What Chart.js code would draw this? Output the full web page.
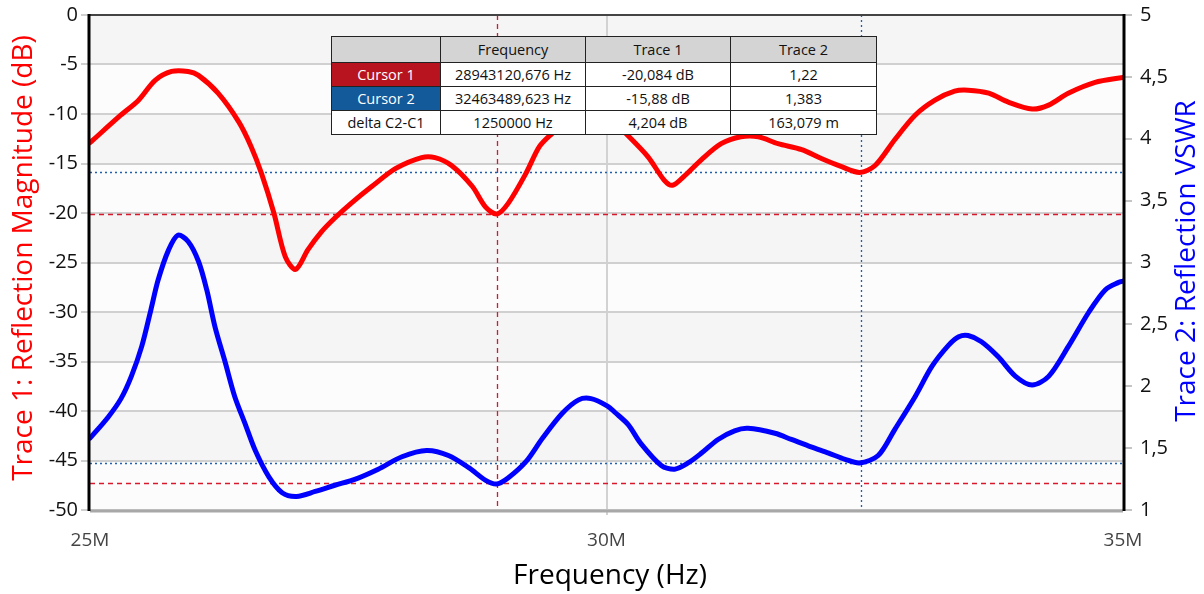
<!DOCTYPE html>
<html>
<head>
<meta charset="utf-8">
<script src="https://cdn.jsdelivr.net/npm/chart.js@4.4.1/dist/chart.umd.min.js"></script>
<style>
  body { margin: 0; background: #fff; }
  #wrap { position: relative; width: 1204px; height: 594px; }
  #cursors {
    position: absolute; left: 331px; top: 36px;
    border-collapse: collapse; table-layout: fixed;
    font-family: "Open Sans", sans-serif; font-size: 14.5px; color: #111;
    background: #fff;
  }
  #cursors td { border: 1px solid #222; text-align: center; padding: 0; height: 23px; white-space: nowrap; }
  #cursors tr.head td { background: #d4d4d4; height: 25px; }
  #cursors td.c1 { background: #b8141f; color: #fff; }
  #cursors td.c2 { background: #135a9b; color: #fff; }
</style>
</head>
<body>
<div id="wrap">
  <canvas id="lineChart" width="1204" height="594"></canvas>
  <table id="cursors">
    <colgroup><col style="width:109px"><col style="width:145px"><col style="width:145px"><col style="width:146px"></colgroup>
    <tr class="head"><td></td><td>Frequency</td><td>Trace 1</td><td>Trace 2</td></tr>
    <tr><td class="c1">Cursor 1</td><td>28943120,676 Hz</td><td>-20,084 dB</td><td>1,22</td></tr>
    <tr><td class="c2">Cursor 2</td><td>32463489,623 Hz</td><td>-15,88 dB</td><td>1,383</td></tr>
    <tr><td>delta C2-C1</td><td>1250000 Hz</td><td>4,204 dB</td><td>163,079 m</td></tr>
  </table>
</div>
<script>
// trace 1 : reflection magnitude (dB), fréquence en MHz
const freq1 = [25, 25.3, 25.47, 25.63, 25.79, 25.95, 26.05, 26.24, 26.44, 26.56, 26.66, 26.78, 26.89, 26.99,
    27.11, 27.24, 27.37, 27.53, 27.73, 27.96, 28.21, 28.34, 28.5, 28.7, 28.83, 28.94, 29.05, 29.22, 29.35,
    29.47, 29.65, 29.85, 30.05, 30.19, 30.4, 30.56, 30.64, 30.75, 30.92, 31.11, 31.3, 31.47, 31.66, 31.89,
    32.08, 32.27, 32.45, 32.6, 32.79, 32.99, 33.18, 33.37, 33.5, 33.7, 33.89, 34.12, 34.28, 34.47, 34.73, 35];
const trace1 = [-12.9, -10.1, -8.6, -6.6, -5.7, -5.7, -6.1, -7.9, -10.8, -13.3, -16.0, -20.0, -24.4, -25.7,
    -23.7, -21.9, -20.5, -19.0, -17.3, -15.5, -14.4, -14.4, -15.2, -17.3, -19.4, -20.1, -19.0, -16.0, -13.3,
    -12.0, -10.4, -9.8, -10.6, -12.0, -14.3, -16.7, -17.2, -16.3, -14.6, -13.0, -12.3, -12.3, -13.0, -13.6,
    -14.5, -15.3, -15.9, -15.2, -12.6, -10.1, -8.6, -7.7, -7.6, -7.9, -8.8, -9.5, -9.1, -7.9, -6.8, -6.3];

// trace 2 : reflection VSWR
const freq2 = [25, 25.175, 25.3, 25.4, 25.5, 25.59, 25.66, 25.76, 25.85, 25.95, 26.05, 26.13, 26.21, 26.31,
    26.4, 26.5, 26.6, 26.73, 26.86, 27.0, 27.18, 27.37, 27.57, 27.79, 28.02, 28.26, 28.47, 28.67, 28.83,
    28.94, 29.05, 29.22, 29.38, 29.57, 29.73, 29.85, 30.01, 30.08, 30.21, 30.33, 30.53, 30.66, 30.79, 30.92,
    31.08, 31.24, 31.37, 31.63, 31.79, 31.98, 32.15, 32.31, 32.45, 32.63, 32.79, 32.99, 33.15, 33.31, 33.41,
    33.5, 33.63, 33.79, 33.96, 34.12, 34.28, 34.47, 34.67, 34.83, 34.96, 35];
const trace2 = [1.58, 1.75, 1.9, 2.08, 2.32, 2.62, 2.86, 3.1, 3.22, 3.17, 3.01, 2.78, 2.48, 2.19,
    1.92, 1.7, 1.48, 1.27, 1.14, 1.11, 1.15, 1.2, 1.25, 1.33, 1.43, 1.48, 1.44, 1.34, 1.24,
    1.21, 1.26, 1.39, 1.58, 1.78, 1.89, 1.9, 1.84, 1.79, 1.69, 1.54, 1.36, 1.33, 1.38, 1.46,
    1.57, 1.64, 1.66, 1.62, 1.57, 1.51, 1.46, 1.41, 1.38, 1.44, 1.65, 1.92, 2.16, 2.33, 2.4,
    2.41, 2.36, 2.24, 2.08, 2.01, 2.08, 2.32, 2.6, 2.78, 2.84, 2.85];

// curseurs (valeurs du tableau)
const cursorFreq = [28.943120676, 32.463489623];
const cursorDb = [-20.084, -15.88];
const cursorVswr = [1.22, 1.383];
const cursorColors = ['rgb(215,25,45)', 'rgb(30,95,175)'];
const cursorDash = [[5, 4], [2, 3]];

const xTicks = [25, 30, 35];

const font = '"Open Sans", sans-serif';

function toPoints(xs, ys) {
    return xs.map((x, i) => ({ x: x, y: ys[i] }));
}

// fond en bandes + curseurs
const decor = {
    id: 'decor',
    beforeDraw(chart) {
        const { ctx, chartArea: a, scales } = chart;
        const y = scales.y;
        ctx.save();
        for (let v = 0; v > -50; v -= 5) {
            const top = y.getPixelForValue(v);
            const bot = y.getPixelForValue(v - 5);
            ctx.fillStyle = ((-v / 5) % 2 === 0) ? '#f5f5f5' : '#fcfcfc';
            ctx.fillRect(a.left, top, a.right - a.left, bot - top);
        }
        ctx.restore();
    },
    beforeDatasetsDraw(chart) {
        const { ctx, chartArea: a, scales } = chart;
        ctx.save();
        ctx.lineWidth = 1.3;
        cursorFreq.forEach((f, i) => {
            ctx.strokeStyle = cursorColors[i];
            ctx.setLineDash(cursorDash[i]);
            const px = Math.round(scales.x.getPixelForValue(f)) + 0.5;
            const py1 = Math.round(scales.y.getPixelForValue(cursorDb[i])) + 0.5;
            const py2 = Math.round(scales.y2.getPixelForValue(cursorVswr[i])) + 0.5;
            ctx.beginPath();
            ctx.moveTo(px, a.top); ctx.lineTo(px, a.bottom);
            ctx.moveTo(a.left, py1); ctx.lineTo(a.right, py1);
            ctx.moveTo(a.left, py2); ctx.lineTo(a.right, py2);
            ctx.stroke();
        });
        ctx.restore();
    },
    afterDraw(chart) {
        const { ctx, chartArea: a } = chart;
        ctx.save();
        // cadre
        ctx.lineWidth = 2;
        ctx.strokeStyle = '#444';
        ctx.beginPath(); ctx.moveTo(a.left, a.top); ctx.lineTo(a.right, a.top); ctx.stroke();
        ctx.lineWidth = 3;
        ctx.strokeStyle = '#a8a8a8';
        ctx.beginPath(); ctx.moveTo(a.left, a.bottom + 1); ctx.lineTo(a.right, a.bottom + 1); ctx.stroke();
        ctx.strokeStyle = '#000';
        ctx.beginPath(); ctx.moveTo(a.left - 1, a.top - 1); ctx.lineTo(a.left - 1, a.bottom + 1); ctx.stroke();
        ctx.beginPath(); ctx.moveTo(a.right + 1, a.top - 1); ctx.lineTo(a.right + 1, a.bottom + 1); ctx.stroke();

        // titres des axes
        const midY = 258;
        ctx.font = '28px ' + font;
        ctx.textAlign = 'center';
        ctx.textBaseline = 'middle';
        ctx.fillStyle = '#ff0000';
        ctx.save();
        ctx.translate(24, midY);
        ctx.rotate(-Math.PI / 2);
        ctx.fillText('Trace 1: Reflection Magnitude (dB)', 0, 0);
        ctx.restore();
        ctx.fillStyle = '#0000ff';
        ctx.save();
        ctx.translate(1187, 261);
        ctx.rotate(-Math.PI / 2);
        ctx.fillText('Trace 2: Reflection VSWR', 0, 0);
        ctx.restore();
        ctx.fillStyle = '#000';
        ctx.fillText('Frequency (Hz)', 610, 576);
        ctx.restore();
    }
};

// pas de marge automatique pour les étiquettes aux extrémités
function fixedWidth(w) {
    return s => { s.width = w; s.paddingTop = 0; s.paddingBottom = 0; };
}

window.addEventListener('load', () => {
    const ctxL = document.getElementById('lineChart').getContext('2d');
    const myLineChart = new Chart(ctxL, {
        type: 'line',
        data: {
            datasets: [{
                label: 'Trace 1',
                data: toPoints(freq1, trace1),
                borderColor: '#ff0000',
                borderWidth: 5,
                yAxisID: 'y'
            }, {
                label: 'Trace 2',
                data: toPoints(freq2, trace2),
                borderColor: '#0000ff',
                borderWidth: 5,
                yAxisID: 'y2'
            }]
        },
        options: {
            responsive: false,
            animation: false,
            layout: { padding: { top: 15, left: 0, right: 0, bottom: 0 } },
            elements: {
                point: { radius: 0 },
                line: { tension: 0.3, borderCapStyle: 'round', borderJoinStyle: 'round' }
            },
            plugins: { legend: { display: false }, tooltip: { enabled: false } },
            scales: {
                x: {
                    type: 'linear', min: 25, max: 35,
                    afterBuildTicks: s => { s.ticks = xTicks.map(v => ({ value: v })); },
                    afterFit: s => { s.height = 84; s.paddingLeft = 0; s.paddingRight = 0; },
                    ticks: {
                        callback: v => v + 'M', color: '#444', padding: 14,
                        maxRotation: 0, font: { family: font, size: 19 }
                    },
                    grid: {
                        color: c => (c.tick && c.tick.value === 30) ? '#d2d2d2' : 'rgba(0,0,0,0)',
                        lineWidth: 2, tickLength: 5
                    },
                    border: { display: false }
                },
                y: {
                    position: 'left', min: -50, max: 0,
                    afterFit: fixedWidth(90),
                    ticks: { stepSize: 5, color: '#111', padding: 3, font: { family: font, size: 20 } },
                    grid: { color: '#d0d0d0', lineWidth: 2, tickLength: 9 },
                    border: { display: false }
                },
                y2: {
                    position: 'right', min: 1, max: 5,
                    afterFit: fixedWidth(81),
                    ticks: {
                        stepSize: 0.5, color: '#111', padding: 8,
                        callback: v => String(v).replace('.', ','),
                        font: { family: font, size: 20 }
                    },
                    grid: { drawOnChartArea: false, color: '#c4c4c4', lineWidth: 2, tickLength: 9 },
                    border: { display: false }
                }
            }
        },
        plugins: [decor]
    });
});
</script>
</body>
</html>
